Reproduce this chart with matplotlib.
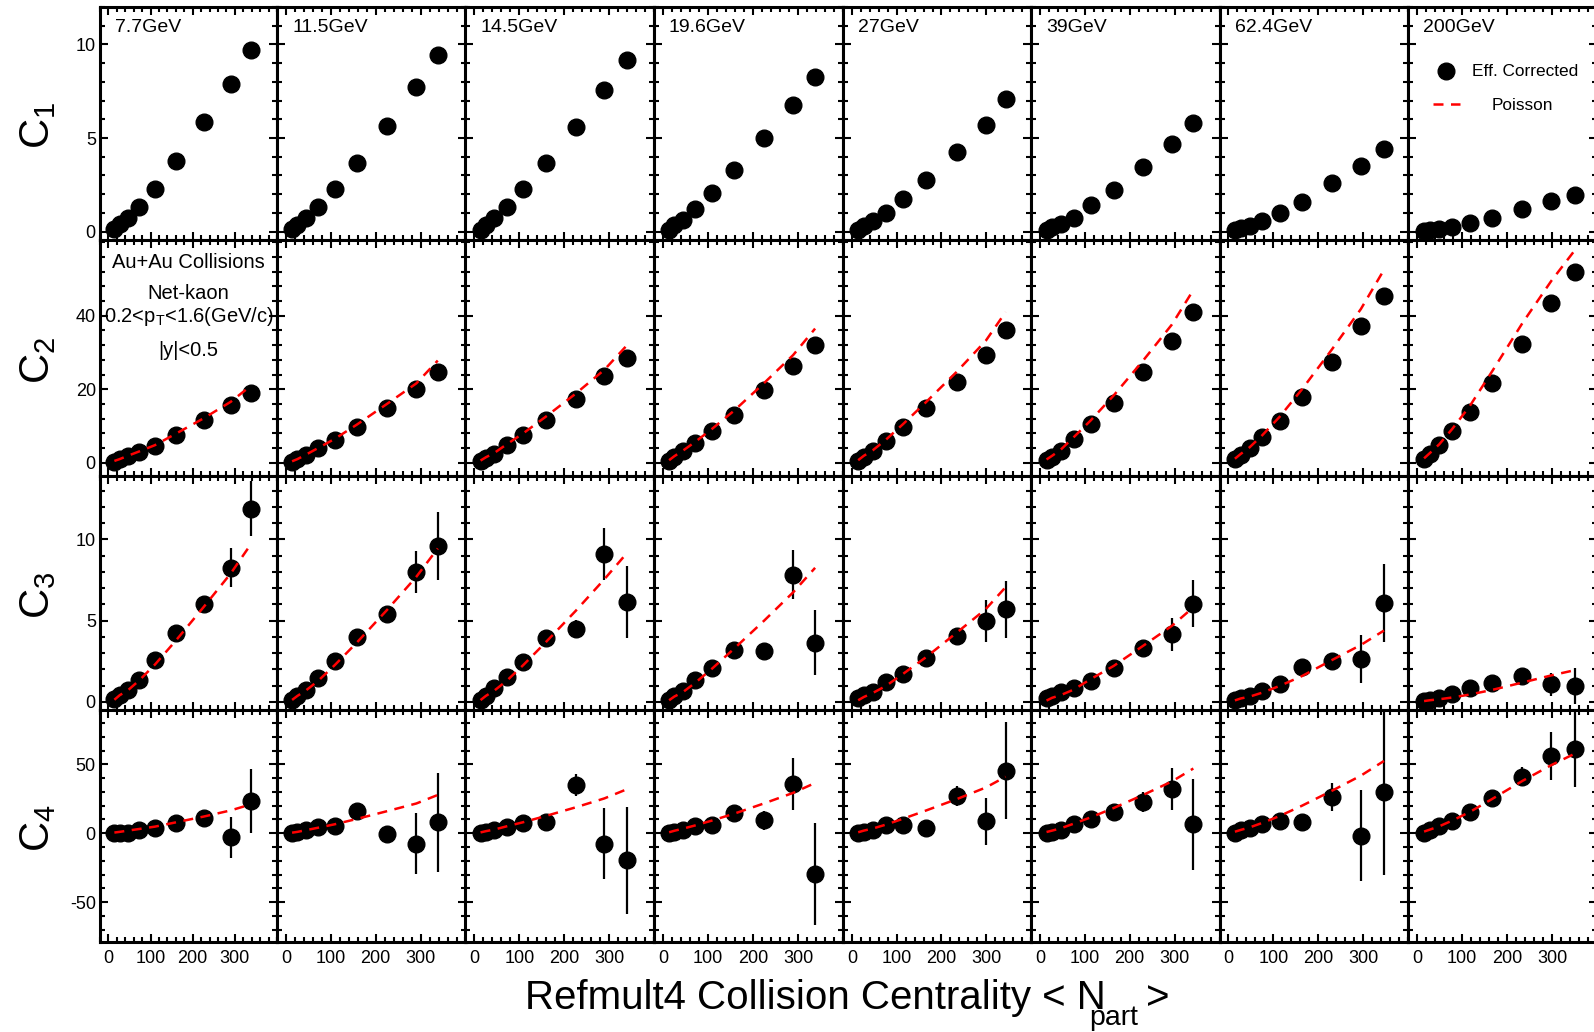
import matplotlib.pyplot as plt
from matplotlib.ticker import MultipleLocator, FixedLocator

plt.rcParams['font.family'] = 'Liberation Sans'
plt.rcParams['mathtext.fontset'] = 'custom'
plt.rcParams['mathtext.rm'] = 'Liberation Sans'
plt.rcParams['mathtext.it'] = 'Liberation Sans:italic'
plt.rcParams['axes.unicode_minus'] = False

# Net-kaon cumulants vs <Npart>
energies = ['7.7GeV', '11.5GeV', '14.5GeV', '19.6GeV', '27GeV', '39GeV', '62.4GeV', '200GeV']

npart = [
    [14.1, 26.7, 46.1, 73.4, 110.5, 159.9, 226.0, 290.4, 337.4],
    [13.6, 25.6, 44.3, 71.5, 108.6, 158.2, 224.9, 290.5, 338.2],
    [13.5, 25.5, 44.5, 71.5, 108.5, 158.5, 225.5, 289.5, 340.0],
    [13.6, 25.3, 44.3, 71.8, 108.8, 158.2, 224.8, 289.2, 338.0],
    [13.9, 26.5, 46.6, 75.2, 114.0, 165.5, 233.6, 299.0, 343.3],
    [14.6, 27.0, 46.6, 74.7, 112.9, 164.1, 229.8, 293.9, 341.7],
    [14.3, 27.3, 47.0, 75.4, 113.9, 163.9, 230.3, 294.9, 346.5],
    [15.7, 28.2, 49.3, 78.3, 117.1, 167.6, 234.3, 298.6, 350.6],
]

c1 = [
    [0.13, 0.41, 0.71, 1.33, 2.30, 3.77, 5.84, 7.91, 9.68],
    [0.12, 0.37, 0.70, 1.29, 2.26, 3.66, 5.65, 7.70, 9.44],
    [0.11, 0.37, 0.70, 1.29, 2.26, 3.66, 5.60, 7.55, 9.17],
    [0.10, 0.33, 0.60, 1.18, 2.04, 3.28, 5.00, 6.74, 8.25],
    [0.10, 0.30, 0.55, 0.97, 1.72, 2.75, 4.25, 5.71, 7.06],
    [0.08, 0.25, 0.42, 0.75, 1.40, 2.21, 3.45, 4.68, 5.82],
    [0.09, 0.21, 0.32, 0.57, 0.98, 1.59, 2.57, 3.50, 4.39],
    [0.05, 0.10, 0.16, 0.27, 0.45, 0.74, 1.19, 1.63, 1.95],
]

c2 = [
    [0.1, 0.9, 1.8, 3.0, 4.5, 7.5, 11.6, 15.7, 18.9],
    [0.3, 0.9, 2.0, 3.9, 6.1, 9.7, 15.0, 20.2, 24.6],
    [0.6, 1.4, 2.5, 4.7, 7.5, 11.6, 17.4, 23.5, 28.4],
    [0.6, 1.7, 3.1, 5.3, 8.6, 13.0, 19.9, 26.3, 32.0],
    [0.6, 1.7, 3.1, 5.8, 9.7, 15.0, 22.1, 29.4, 36.0],
    [0.8, 1.7, 3.3, 6.4, 10.5, 16.3, 24.6, 33.2, 40.9],
    [1.1, 2.2, 3.9, 6.9, 11.4, 18.0, 27.4, 37.1, 45.4],
    [1.1, 2.5, 4.7, 8.6, 13.8, 21.6, 32.4, 43.5, 51.8],
]

# Poisson baseline for the even cumulants (C2 = C4)
poisson_c2 = [
    [0.5, 1.0, 1.9, 3.1, 4.8, 7.9, 12.1, 16.6, 20.9],
    [0.4, 1.0, 2.2, 4.0, 6.5, 10.4, 16.0, 21.6, 27.8],
    [0.6, 1.5, 2.7, 5.0, 8.0, 12.5, 18.8, 25.3, 32.0],
    [0.7, 1.8, 3.3, 5.7, 9.2, 14.2, 21.7, 29.3, 36.5],
    [0.7, 1.9, 3.4, 6.2, 10.5, 16.5, 24.7, 33.2, 41.0],
    [0.9, 1.9, 3.6, 6.9, 11.5, 18.3, 27.8, 37.6, 47.0],
    [1.1, 2.4, 4.2, 7.5, 12.5, 20.0, 30.8, 41.8, 52.5],
    [1.2, 2.6, 5.0, 9.2, 15.4, 25.0, 38.0, 49.5, 57.8],
]

c3 = [
    [0.15, 0.41, 0.72, 1.33, 2.56, 4.26, 6.00, 8.26, 11.90],
    [0.14, 0.39, 0.76, 1.45, 2.51, 4.01, 5.39, 8.00, 9.57],
    [0.14, 0.39, 0.83, 1.51, 2.45, 3.95, 4.51, 9.07, 6.14],
    [0.14, 0.39, 0.70, 1.33, 2.08, 3.20, 3.14, 7.83, 3.64],
    [0.25, 0.41, 0.62, 1.23, 1.69, 2.73, 4.04, 4.98, 5.70],
    [0.25, 0.37, 0.58, 0.86, 1.29, 2.11, 3.32, 4.16, 6.05],
    [0.14, 0.26, 0.39, 0.64, 1.08, 2.14, 2.50, 2.64, 6.06],
    [0.07, 0.14, 0.26, 0.51, 0.83, 1.14, 1.58, 1.07, 1.00],
]
c3_err = [
    [0.02, 0.03, 0.05, 0.08, 0.15, 0.25, 0.45, 1.20, 1.70],
    [0.03, 0.05, 0.07, 0.10, 0.15, 0.25, 0.45, 1.30, 2.10],
    [0.03, 0.05, 0.07, 0.10, 0.15, 0.30, 0.50, 1.60, 2.20],
    [0.03, 0.05, 0.07, 0.10, 0.15, 0.25, 0.40, 1.50, 2.00],
    [0.03, 0.05, 0.07, 0.10, 0.15, 0.25, 0.40, 1.30, 1.75],
    [0.03, 0.05, 0.07, 0.10, 0.15, 0.20, 0.25, 1.00, 1.45],
    [0.03, 0.05, 0.07, 0.10, 0.15, 0.25, 0.50, 1.50, 2.40],
    [0.03, 0.05, 0.07, 0.10, 0.12, 0.15, 0.20, 0.70, 1.10],
]

c4 = [
    [0.0, 0.0, 0.5, 2.4, 4.1, 7.2, 10.9, -2.9, 23.4],
    [0.2, 1.2, 2.4, 4.3, 5.1, 16.2, -0.5, -7.6, 7.9],
    [0.5, 1.2, 2.0, 4.2, 7.1, 7.9, 35.2, -7.6, -19.6],
    [0.5, 1.2, 2.7, 4.9, 5.7, 14.5, 9.4, 35.9, -29.6],
    [0.5, 1.2, 2.7, 5.7, 5.7, 3.5, 27.0, 8.6, 45.5],
    [0.5, 1.2, 2.7, 6.4, 10.1, 15.3, 22.6, 32.2, 6.4],
    [0.5, 2.0, 3.5, 6.4, 8.6, 7.9, 26.3, -1.7, 30.0],
    [0.4, 2.4, 5.3, 9.1, 15.7, 25.4, 41.0, 56.2, 60.9],
]
c4_err = [
    [0.3, 0.5, 0.8, 1.2, 1.8, 2.5, 4.0, 15.0, 23.4],
    [0.3, 0.5, 0.8, 1.2, 2.0, 3.0, 6.0, 22.0, 36.0],
    [0.3, 0.5, 0.8, 1.2, 2.0, 3.0, 8.0, 26.0, 39.0],
    [0.3, 0.5, 0.8, 1.2, 2.0, 3.0, 7.0, 19.0, 37.0],
    [0.3, 0.5, 0.8, 1.2, 2.0, 3.0, 7.0, 17.0, 35.0],
    [0.3, 0.5, 0.8, 1.2, 2.0, 3.0, 7.0, 15.0, 33.0],
    [0.3, 0.5, 0.8, 1.2, 2.0, 3.0, 10.0, 33.0, 60.0],
    [0.3, 0.5, 0.8, 1.2, 2.0, 3.0, 7.0, 17.5, 27.0],
]

row_names = ['C_1', 'C_2', 'C_3', 'C_4']
ylims = [(-0.45, 12.0), (-3.6, 60.6), (-0.5, 13.9), (-79.0, 89.5)]
yticks = [[0, 5, 10], [0, 20, 40], [0, 5, 10], [-50, 0, 50]]
yminor = [1, 4, 1, 10]
xticks = [0, 100, 200, 300]

W, H = 1594, 1032
col_edges = [100, 277, 465.5, 654, 843, 1031, 1219.5, 1408, 1597]
row_edges = [7, 240, 476, 710, 942]

fig = plt.figure(figsize=(W / 100, H / 100), dpi=100)

ms = 12
for r in range(4):
    for c in range(8):
        x0, x1 = col_edges[c], col_edges[c + 1]
        y0, y1 = row_edges[r], row_edges[r + 1]
        ax = fig.add_axes([x0 / W, 1 - y1 / H, (x1 - x0) / W, (y1 - y0) / H])
        x = npart[c]
        if r == 0:
            ax.plot(x, c1[c], 'o', color='black', ms=ms, zorder=3)
        elif r == 1:
            ax.plot(x, c2[c], 'o', color='black', ms=ms, zorder=3)
            ax.plot(x, poisson_c2[c], '--', color='red', lw=1.8, dashes=(4, 3), zorder=4)
        elif r == 2:
            ax.errorbar(x, c3[c], yerr=c3_err[c], fmt='o', color='black', ms=ms,
                        elinewidth=1.6, capsize=0, zorder=3)
            ax.plot(x, c1[c], '--', color='red', lw=1.8, dashes=(4, 3), zorder=4)
        else:
            ax.errorbar(x, c4[c], yerr=c4_err[c], fmt='o', color='black', ms=ms,
                        elinewidth=1.6, capsize=0, zorder=3)
            ax.plot(x, poisson_c2[c], '--', color='red', lw=1.8, dashes=(4, 3), zorder=4)

        ax.set_xlim(-20, 400)
        ax.set_ylim(*ylims[r])
        ax.xaxis.set_major_locator(FixedLocator(xticks))
        ax.xaxis.set_minor_locator(MultipleLocator(20))
        ax.yaxis.set_major_locator(FixedLocator(yticks[r]))
        ax.yaxis.set_minor_locator(MultipleLocator(yminor[r]))
        ax.tick_params(which='both', direction='in', top=True, right=True, width=1.5,
                       labelsize=13, labelbottom=(r == 3), labelleft=(c == 0))
        ax.tick_params(which='major', length=6)
        ax.tick_params(which='minor', length=3.5)
        ax.tick_params(axis='x', pad=6)
        ax.tick_params(axis='y', pad=3)
        for s in ax.spines.values():
            s.set_linewidth(2.2)

        if r == 0:
            fig.text((x0 + 15) / W, 1 - 27 / H, energies[c], fontsize=14, ha='left', va='center')

# row labels
for r in range(4):
    yc = (row_edges[r] + row_edges[r + 1]) / 2 + 2
    fig.text(38 / W, 1 - yc / H, r'$\mathregular{' + row_names[r] + '}$', fontsize=30,
             rotation=90, ha='center', va='center')

# info text in the 7.7 GeV C2 panel
info = ['Au+Au Collisions', 'Net-kaon', r'0.2<p$_\mathregular{T}$<1.6(GeV/c)', '|y|<0.5']
info_y = [263, 293, 317, 351]
for t, yy in zip(info, info_y):
    fig.text(188.5 / W, 1 - yy / H, t, fontsize=14.5, ha='center', va='center')

# legend in the 200 GeV C1 panel
fig.lines.append(plt.Line2D([1445.7 / W], [1 - 71 / H], marker='o', color='black', ms=ms,
                            transform=fig.transFigure, figure=fig))
fig.text(1471.5 / W, 1 - 71.5 / H, 'Eff. Corrected', fontsize=12.4, ha='left', va='center')
fig.lines.append(plt.Line2D([1433 / W, 1460 / W], [1 - 104 / H, 1 - 104 / H], ls='--',
                            dashes=(4, 3), lw=1.8, color='red',
                            transform=fig.transFigure, figure=fig))
fig.text(1492 / W, 1 - 105.5 / H, 'Poisson', fontsize=12.4, ha='left', va='center')

# x axis title
fig.text(1106 / W, 1 - 1009 / H, 'Refmult4 Collision Centrality < N', fontsize=29,
         ha='right', va='baseline')
fig.text(1089 / W, 1 - 1025 / H, 'part', fontsize=20.5, ha='left', va='baseline')
fig.text(1146 / W, 1 - 1009 / H, '>', fontsize=29, ha='left', va='baseline')

fig.savefig('out.png', dpi=100)
